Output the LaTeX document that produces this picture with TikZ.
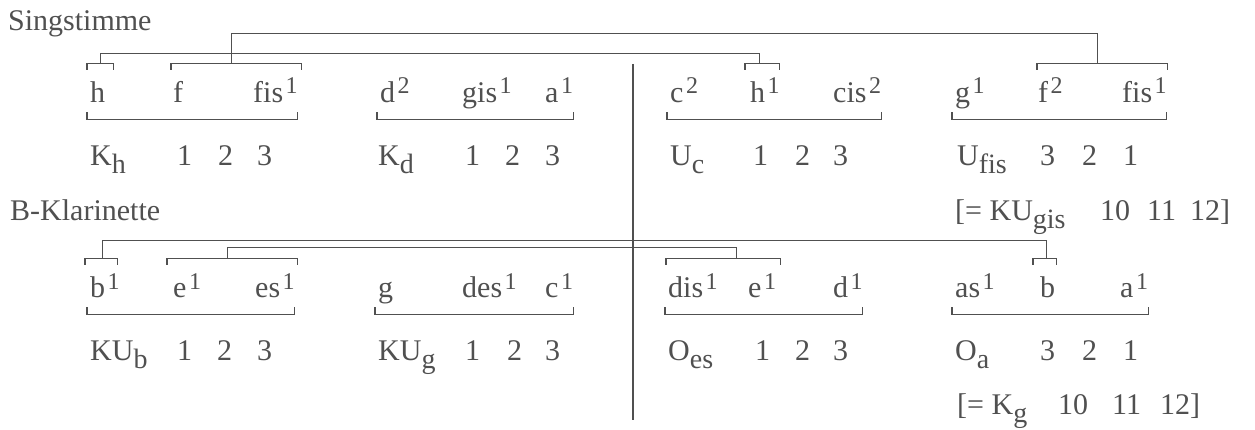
\documentclass[tikz,border=0pt]{standalone}
\usepackage{fontspec}
\setmainfont{Liberation Serif}
\usepackage{tikz}
\usetikzlibrary{positioning}
\definecolor{druckgrau}{RGB}{80, 80, 80}
\newcommand{\hoch}[1]{\kern2.5pt\raisebox{9pt}{\fontsize{24}{24}\selectfont #1}}
\newcommand{\tief}[1]{\raisebox{-8pt}{\fontsize{28}{28}\selectfont #1}}

\begin{document}
\begin{tikzpicture}[
    x=1pt, y=-1pt,
    titel/.style={
        anchor=base west, inner sep=0pt,
        text=druckgrau, font=\fontsize{30}{36}\selectfont
    },
    note/.style={titel, text height=21pt, text depth=8pt},
    klammer/.style={draw=druckgrau, line width=1.1pt}
]
    \useasboundingbox (0,0) rectangle (1255,430);

    % Singstimme
    \node[titel] (t1) at (8,31) {Singstimme};
    \node[note] (s1) at (90,103) {h};
    \node[note] (s2) at (173,103) {f};
    \node[note] (s3) at (253,103) {fis\hoch{1}};
    \node[note] (s4) at (380,103) {d\hoch{2}};
    \node[note] (s5) at (462,103) {gis\hoch{1}};
    \node[note] (s6) at (545,103) {a\hoch{1}};
    \node[note] (s7) at (670,103) {c\hoch{2}};
    \node[note] (s8) at (750,103) {h\hoch{1}};
    \node[note] (s9) at (833,103) {cis\hoch{2}};
    \node[note] (s10) at (955,103) {g\hoch{1}};
    \node[note] (s11) at (1038,103) {f\hoch{2}};
    \node[note] (s12) at (1122,103) {fis\hoch{1}};

    \node[titel] (sl1) at (90,166) {K\tief{h}};
    \node[titel] (sl2) at (378,166) {K\tief{d}};
    \node[titel] (sl3) at (670,166) {U\tief{c}};
    \node[titel] (sl4) at (957,166) {U\tief{fis}};
    \node[titel] (sl5) at (955,221) {[= KU\tief{gis}};
    \foreach \z/\x [count=\i] in {1/177, 2/218, 3/257, 1/465, 2/505, 3/545,
        1/753, 2/795, 3/833, 3/1040, 2/1082, 1/1123}
        \node[titel] (sz\i) at (\x,166) {\z};
    \foreach \z/\x [count=\i] in {10/1100, 11/1147, 12]/1190}
        \node[titel] (sr\i) at (\x,221) {\z};

    % B-Klarinette
    \node[titel] (t2) at (10,221) {B-Klarinette};
    \node[note] (k1) at (90,298) {b\hoch{1}};
    \node[note] (k2) at (173,298) {e\hoch{1}};
    \node[note] (k3) at (255,298) {es\hoch{1}};
    \node[note] (k4) at (378,298) {g};
    \node[note] (k5) at (462,298) {des\hoch{1}};
    \node[note] (k6) at (545,298) {c\hoch{1}};
    \node[note] (k7) at (668,298) {dis\hoch{1}};
    \node[note] (k8) at (748,298) {e\hoch{1}};
    \node[note] (k9) at (833,298) {d\hoch{1}};
    \node[note] (k10) at (955,298) {as\hoch{1}};
    \node[note] (k11) at (1040,298) {b};
    \node[note] (k12) at (1120,298) {a\hoch{1}};

    \node[titel] (kl1) at (90,360) {KU\tief{b}};
    \node[titel] (kl2) at (378,360) {KU\tief{g}};
    \node[titel] (kl3) at (668,360) {O\tief{es}};
    \node[titel] (kl4) at (955,360) {O\tief{a}};
    \node[titel] (kl5) at (957,414) {[= K\tief{g}};
    \foreach \z/\x [count=\i] in {1/177, 2/217, 3/257, 1/465, 2/507, 3/545,
        1/755, 2/795, 3/833, 3/1040, 2/1082, 1/1123}
        \node[titel] (kz\i) at (\x,360) {\z};
    \foreach \z/\x [count=\i] in {10/1058, 11/1112, 12]/1160}
        \node[titel] (kr\i) at (\x,414) {\z};

    % Trennlinie
    \coordinate (oben) at (633,64);
    \coordinate (unten) at (633,420);
    \draw[klammer] (oben) -- (unten);

    % Klammern unten
    \foreach \a/\b in {s1/s3, s4/s6, s7/s9, s10/s12, k1/k3, k4/k6, k7/k9, k10/k12}
        \draw[klammer] ([shift={(-3,1)}]\a.south west) -- ++(0,7) -| ([shift={(0,1)}]\b.south east);

    % Klammern oben
    \draw[klammer] ([shift={(-3,-12)}]s1.north west) -- ++(0,-6) -| coordinate[pos=.25] (oh) ([shift={(8,-12)}]s1.north east);
    \draw[klammer] ([shift={(-2,-12)}]s2.north west) -- ++(0,-6) -| coordinate[pos=.23] (of) ([shift={(4,-12)}]s3.north east);
    \draw[klammer] ([shift={(-5,-12)}]s8.north west) -- ++(0,-6) -| coordinate[pos=.21] (oh1) ([shift={(0,-12)}]s8.north east);
    \draw[klammer] ([shift={(-1,-12)}]s11.north west) -- ++(0,-6) -| coordinate[pos=.23] (of2) ([shift={(1,-12)}]s12.north east);
    \draw[klammer] ([shift={(-5,-12)}]k1.north west) -- ++(0,-6) -| coordinate[pos=.26] (ob) ([shift={(-2,-12)}]k1.north east);
    \draw[klammer] ([shift={(-6,-12)}]k2.north west) -- ++(0,-6) -| coordinate[pos=.23] (oe) ([shift={(3,-12)}]k3.north east);
    \draw[klammer] ([shift={(-2,-12)}]k7.north west) -- ++(0,-6) -| coordinate[pos=.31] (od) ([shift={(4,-12)}]k8.north east);
    \draw[klammer] ([shift={(-7,-12)}]k11.north west) -- ++(0,-6) -| coordinate[pos=.28] (ob2) ([shift={(1,-12)}]k11.north east);

    % Verbindungen
    \draw[klammer] (oh) -- ++(0,-10) -| (oh1);
    \draw[klammer] (of) -- ++(0,-30) -| (of2);
    \draw[klammer] (ob) -- ++(0,-18) -| (ob2);
    \draw[klammer] (oe) -- ++(0,-11) -| (od);
\end{tikzpicture}
\end{document}
